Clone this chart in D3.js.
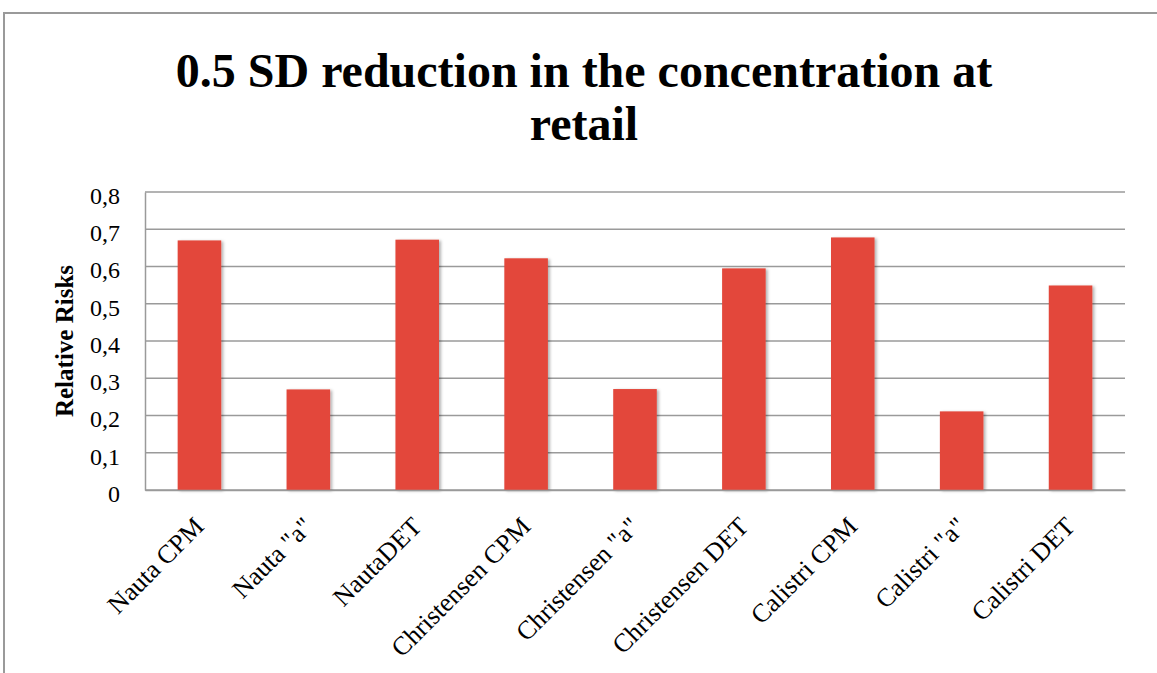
<!DOCTYPE html>
<html>
<head>
<meta charset="utf-8">
<script src="https://cdn.jsdelivr.net/npm/d3@7"></script>
<style>
  body { margin: 0; background: #fff; }
  text { font-family: "Liberation Serif", "Times New Roman", serif; }
</style>
</head>
<body>
<div class="canva"></div>
<script>
const categories = ['Nauta CPM', 'Nauta "a"', 'NautaDET', 'Christensen CPM', 'Christensen "a"',
                    'Christensen DET', 'Calistri CPM', 'Calistri "a"', 'Calistri DET'];
const riskValues = [0.67, 0.27, 0.672, 0.622, 0.271, 0.595, 0.678, 0.211, 0.549];
const yTicks = [0, 0.1, 0.2, 0.3, 0.4, 0.5, 0.6, 0.7, 0.8];
const titleLines = ["0.5 SD reduction in the concentration at", "retail"];

const W = 1157, H = 673;
const margin = {left: 145, right: 32, top: 192, bottom: 183};

const svg = d3.select(".canva").append("svg")
    .attr("width", W)
    .attr("height", H);

// bar shadow
const defs = svg.append("defs");
const f = defs.append("filter").attr("id", "shadow")
    .attr("x", "-20%").attr("y", "-5%").attr("width", "150%").attr("height", "115%");
f.append("feDropShadow").attr("dx", 2).attr("dy", 1).attr("stdDeviation", 1.5)
    .attr("flood-color", "#000").attr("flood-opacity", 0.3);

// outer frame (top + left only visible)
svg.append("path")
    .attr("d", `M4,${H} V13 H${W}`)
    .attr("fill", "none")
    .attr("stroke", "#9a9a9a")
    .attr("stroke-width", 2);

// title
svg.append("text")
    .attr("text-anchor", "middle")
    .attr("font-weight", "bold")
    .attr("font-size", 48)
    .selectAll("tspan")
    .data(titleLines)
    .enter().append("tspan")
    .attr("x", 584)
    .attr("y", (d, i) => 87 + i * 53)
    .text(d => d);

const x = d3.scaleBand()
    .domain(categories)
    .range([margin.left, W - margin.right])
    .paddingInner(0.6)
    .paddingOuter(0.3);

const y = d3.scaleLinear()
    .domain([0, 0.8])
    .range([H - margin.bottom, margin.top]);

// gridlines
svg.append("g")
    .selectAll("line")
    .data(yTicks)
    .enter().append("line")
    .attr("x1", margin.left)
    .attr("x2", W - margin.right)
    .attr("y1", d => y(d))
    .attr("y2", d => y(d))
    .attr("stroke", "#9a9a9a")
    .attr("stroke-width", 1.5);

// y axis
const yAxis = svg.append("g")
    .attr("transform", `translate(${margin.left},0)`)
    .call(d3.axisLeft(y).tickValues(yTicks).tickSize(0).tickPadding(25)
        .tickFormat(d => d === 0 ? "0" : d3.format(".1f")(d).replace(".", ",")));
yAxis.select(".domain").attr("stroke", "#9a9a9a").attr("stroke-width", 1.5);
yAxis.selectAll("text")
    .attr("font-family", "Liberation Serif, serif")
    .attr("font-size", 24)
    .attr("fill", "#000")
    .attr("dy", "0.47em");

// y label
svg.append("text")
    .attr("transform", `translate(73,${(y(0) + y(0.8)) / 2}) rotate(-90)`)
    .attr("text-anchor", "middle")
    .attr("font-weight", "bold")
    .attr("font-size", 25)
    .text("Relative Risks");

// bars
svg.append("g")
    .selectAll("rect")
    .data(riskValues)
    .enter().append("rect")
    .attr("x", (d, i) => x(categories[i]))
    .attr("y", d => y(d))
    .attr("width", x.bandwidth())
    .attr("height", d => y(0) - y(d))
    .attr("fill", "#e3463a")
    .attr("filter", "url(#shadow)");

// x axis
const xAxis = svg.append("g")
    .attr("transform", `translate(0,${y(0)})`)
    .call(d3.axisBottom(x).tickSize(0));
xAxis.select(".domain").attr("stroke", "#9a9a9a").attr("stroke-width", 1.5);
xAxis.selectAll("text")
    .attr("font-family", "Liberation Serif, serif")
    .attr("font-size", 26)
    .attr("fill", "#000")
    .attr("text-anchor", "end")
    .attr("y", 0)
    .attr("dy", 0)
    .attr("transform", "translate(6,38) rotate(-45)");
</script>
</body>
</html>
